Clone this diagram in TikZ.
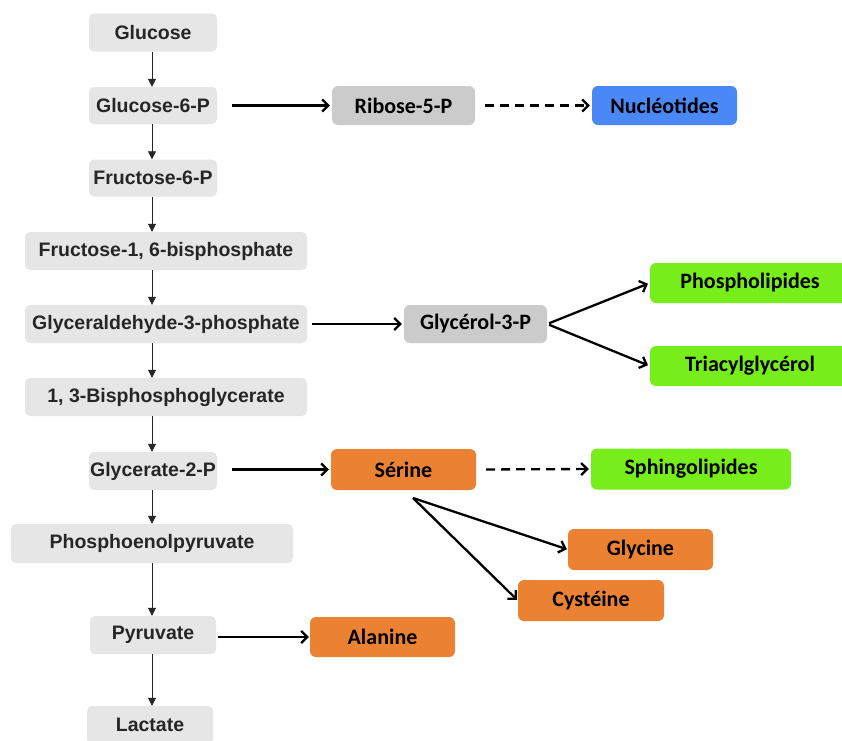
\documentclass[tikz,border=0pt]{standalone}
\usepackage{fontspec}
\setmainfont{Liberation Sans}
\newfontfamily\calfont{Carlito}
\usetikzlibrary{arrows.meta}
\definecolor{lgray}{HTML}{E6E6E6}
\definecolor{mgray}{HTML}{CBCBCB}
\definecolor{ltext}{HTML}{262626}
\definecolor{nblue}{HTML}{4A88F7}
\definecolor{lgreen}{HTML}{77EE1C}
\definecolor{orng}{HTML}{EB8233}
\tikzset{
  leftbox/.style={fill=lgray, rounded corners=5pt, minimum height=38pt, inner sep=0pt,
    font=\fontsize{19.5}{22}\selectfont\bfseries, text=ltext},
  cbox/.style={rounded corners=6pt, minimum width=145pt, minimum height=40pt, inner sep=0pt,
    font=\calfont\fontsize{22}{26}\selectfont\bfseries, text=black},
  varrow/.style={draw=ltext, line width=0.8pt, -{Triangle[length=8pt,width=8pt]}},
  sarrow/.style={draw=black, line width=2.3pt, -{Straight Barb[length=6pt,width=12pt]}},
  darrow/.style={sarrow, dash pattern=on 9pt off 6pt}
}
\begin{document}
\begin{tikzpicture}[x=1pt,y=-1pt]
\fill[white] (0,0) rectangle (842,740);
\useasboundingbox (0,0) rectangle (842,740);
\coordinate (spine) at (152,0);
% left column
\node[leftbox, minimum width=128pt] (glc) at (153,32.5) {Glucose};
\node[leftbox, minimum width=128pt, minimum height=37pt] (g6p) at (153,105.5) {Glucose-6-P};
\node[leftbox, minimum width=128pt, minimum height=37pt] (f6p) at (153,178) {Fructose-6-P};
\node[leftbox, minimum width=282pt] (f16) at (166,251) {Fructose-1, 6-bisphosphate};
\node[leftbox, minimum width=282pt] (gap) at (166,324) {Glyceraldehyde-3-phosphate};
\node[leftbox, minimum width=282pt] (bpg) at (166,397) {1, 3-Bisphosphoglycerate};
\node[leftbox, minimum width=128pt] (g2p) at (153,471) {Glycerate-2-P};
\node[leftbox, minimum width=282pt, minimum height=39pt] (pep) at (152,543.5) {Phosphoenolpyruvate};
\node[leftbox, minimum width=126pt] (pyr) at (153,635) {Pyruvate};
\node[leftbox, minimum width=126pt] (lac) at (150,725) {Lactate};
% vertical arrows
\draw[varrow] (glc.south -| spine) -- (g6p.north -| spine);
\draw[varrow] (g6p.south -| spine) -- (f6p.north -| spine);
\draw[varrow] (f6p.south -| spine) -- (f16.north -| spine);
\draw[varrow] (f16.south -| spine) -- (gap.north -| spine);
\draw[varrow] (gap.south -| spine) -- (bpg.north -| spine);
\draw[varrow] (bpg.south -| spine) -- (g2p.north -| spine);
\draw[varrow] (g2p.south -| spine) -- (pep.north -| spine);
\draw[varrow] (pep.south -| spine) -- (pyr.north -| spine);
\draw[varrow] (pyr.south -| spine) -- (lac.north -| spine);
% right nodes
\node[cbox, fill=mgray, minimum width=143pt, minimum height=39pt] (rib) at (403.5,105.5) {Ribose-5-P};
\node[cbox, fill=nblue, minimum height=39pt] (nuc) at (664.5,105.5) {Nucléotides};
\node[cbox, fill=mgray, minimum width=143pt, minimum height=38pt] (glp) at (475.5,324) {Glycérol-3-P};
\node[cbox, fill=lgreen, minimum width=200pt] (phl) at (750,283) {Phospholipides};
\node[cbox, fill=lgreen, minimum width=200pt] (tag) at (750,366) {Triacylglycérol};
\node[cbox, fill=orng, minimum height=41pt] (ser) at (403.5,469.5) {Sérine};
\node[cbox, fill=lgreen, minimum width=200pt, minimum height=41pt] (sph) at (691,469) {Sphingolipides};
\node[cbox, fill=orng, minimum height=41pt] (gly) at (640.5,549.5) {Glycine};
\node[cbox, fill=orng, minimum width=146pt, minimum height=41pt] (cys) at (591,600.5) {Cystéine};
\node[cbox, fill=orng] (ala) at (382.5,637) {Alanine};
\coordinate (sfork) at (413,498);
% horizontal / diagonal arrows
\draw[sarrow, shorten <=15pt, shorten >=2pt] (g6p.east) -- (rib.west);
\draw[darrow, shorten <=10pt, shorten >=2pt] (rib.east) -- (nuc.west);
\draw[sarrow, shorten <=5pt, shorten >=2pt] (gap.east) -- (glp.west);
\draw[sarrow, shorten <=2pt, shorten >=2pt] (glp.east) -- (phl.west);
\draw[sarrow, shorten <=2pt, shorten >=2pt] (glp.east) -- (tag.west);
\draw[sarrow, shorten <=15pt, shorten >=2pt] (g2p.east |- ser.west) -- (ser.west);
\draw[darrow, shorten <=10pt, shorten >=2pt] (ser.east) -- (sph.west);
\draw[sarrow, shorten >=1pt] (sfork) -- (gly.west);
\draw[sarrow, shorten >=1pt] (sfork) -- (cys.west);
\draw[sarrow, shorten <=2pt, shorten >=1pt] (pyr.east |- ala.west) -- (ala.west);
\end{tikzpicture}
\end{document}
